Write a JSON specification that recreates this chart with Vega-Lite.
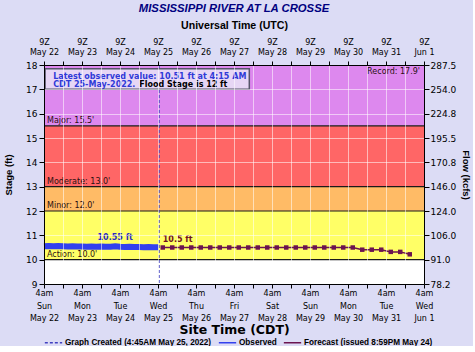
{
  "$schema": "https://vega.github.io/schema/vega-lite/v6.json",
  "background": "#dcdcf5",
  "padding": {"left": 3, "top": 2, "right": 2, "bottom": 0},
  "title": {"text": "MISSISSIPPI RIVER AT LA CROSSE", "font": "Liberation Sans", "fontWeight": "bold", "fontStyle": "italic", "fontSize": 11.3, "color": "#000080", "anchor": "middle", "offset": 6},
  "width": 380,
  "height": 219,
  "config": {
    "font": "DejaVu Sans",
    "view": {"stroke": null},
    "axis": {"labelFont": "DejaVu Sans", "labelFontSize": 8, "labelColor": "#000000", "tickColor": "#000000", "domainColor": "#000000", "titleColor": "#000000", "titleFont": "Liberation Sans", "titleFontWeight": "bold", "titleFontSize": 9.5, "labelOverlap": false, "labelFlush": false, "labelBound": false}
  },
  "datasets": {
    "bands": [
      {"level": "Normal", "lo": 9, "hi": 10},
      {"level": "Action", "lo": 10, "hi": 12},
      {"level": "Minor", "lo": 12, "hi": 13},
      {"level": "Moderate", "lo": 13, "hi": 15.5},
      {"level": "Major", "lo": 15.5, "hi": 18}
    ],
    "thresholds": [
      {"level": "Action", "stage": 10, "label": "Action: 10.0'", "t": "2022-05-22T04:00"},
      {"level": "Minor", "stage": 12, "label": "Minor: 12.0'", "t": "2022-05-22T04:00"},
      {"level": "Moderate", "stage": 13, "label": "Moderate: 13.0'", "t": "2022-05-22T04:00"},
      {"level": "Major", "stage": 15.5, "label": "Major: 15.5'", "t": "2022-05-22T04:00"}
    ],
    "created": [{"series": "Graph Created (4:45AM May 25, 2022)", "t": "2022-05-25T04:45"}],
    "observed": [
      {"series": "Observed", "t": "2022-05-22T04:00", "stage": 10.55},
      {"series": "Observed", "t": "2022-05-22T07:00", "stage": 10.56},
      {"series": "Observed", "t": "2022-05-22T10:00", "stage": 10.55},
      {"series": "Observed", "t": "2022-05-22T13:00", "stage": 10.56},
      {"series": "Observed", "t": "2022-05-22T16:00", "stage": 10.55},
      {"series": "Observed", "t": "2022-05-22T19:00", "stage": 10.54},
      {"series": "Observed", "t": "2022-05-22T22:00", "stage": 10.55},
      {"series": "Observed", "t": "2022-05-23T01:00", "stage": 10.54},
      {"series": "Observed", "t": "2022-05-23T04:00", "stage": 10.54},
      {"series": "Observed", "t": "2022-05-23T07:00", "stage": 10.53},
      {"series": "Observed", "t": "2022-05-23T10:00", "stage": 10.54},
      {"series": "Observed", "t": "2022-05-23T13:00", "stage": 10.53},
      {"series": "Observed", "t": "2022-05-23T16:00", "stage": 10.54},
      {"series": "Observed", "t": "2022-05-23T19:00", "stage": 10.53},
      {"series": "Observed", "t": "2022-05-23T22:00", "stage": 10.53},
      {"series": "Observed", "t": "2022-05-24T01:00", "stage": 10.55},
      {"series": "Observed", "t": "2022-05-24T04:00", "stage": 10.53},
      {"series": "Observed", "t": "2022-05-24T07:00", "stage": 10.52},
      {"series": "Observed", "t": "2022-05-24T10:00", "stage": 10.53},
      {"series": "Observed", "t": "2022-05-24T13:00", "stage": 10.52},
      {"series": "Observed", "t": "2022-05-24T16:00", "stage": 10.52},
      {"series": "Observed", "t": "2022-05-24T19:00", "stage": 10.51},
      {"series": "Observed", "t": "2022-05-24T22:00", "stage": 10.52},
      {"series": "Observed", "t": "2022-05-25T01:00", "stage": 10.51},
      {"series": "Observed", "t": "2022-05-25T04:00", "stage": 10.51},
      {"series": "Observed", "t": "2022-05-25T04:15", "stage": 10.51}
    ],
    "forecast": [
      {"series": "Forecast (issued 8:59PM May 24)", "t": "2022-05-25T07:00", "stage": 10.5},
      {"series": "Forecast (issued 8:59PM May 24)", "t": "2022-05-25T13:00", "stage": 10.5},
      {"series": "Forecast (issued 8:59PM May 24)", "t": "2022-05-25T19:00", "stage": 10.5},
      {"series": "Forecast (issued 8:59PM May 24)", "t": "2022-05-26T01:00", "stage": 10.5},
      {"series": "Forecast (issued 8:59PM May 24)", "t": "2022-05-26T07:00", "stage": 10.5},
      {"series": "Forecast (issued 8:59PM May 24)", "t": "2022-05-26T13:00", "stage": 10.5},
      {"series": "Forecast (issued 8:59PM May 24)", "t": "2022-05-26T19:00", "stage": 10.5},
      {"series": "Forecast (issued 8:59PM May 24)", "t": "2022-05-27T01:00", "stage": 10.5},
      {"series": "Forecast (issued 8:59PM May 24)", "t": "2022-05-27T07:00", "stage": 10.5},
      {"series": "Forecast (issued 8:59PM May 24)", "t": "2022-05-27T13:00", "stage": 10.5},
      {"series": "Forecast (issued 8:59PM May 24)", "t": "2022-05-27T19:00", "stage": 10.5},
      {"series": "Forecast (issued 8:59PM May 24)", "t": "2022-05-28T01:00", "stage": 10.5},
      {"series": "Forecast (issued 8:59PM May 24)", "t": "2022-05-28T07:00", "stage": 10.5},
      {"series": "Forecast (issued 8:59PM May 24)", "t": "2022-05-28T13:00", "stage": 10.5},
      {"series": "Forecast (issued 8:59PM May 24)", "t": "2022-05-28T19:00", "stage": 10.5},
      {"series": "Forecast (issued 8:59PM May 24)", "t": "2022-05-29T01:00", "stage": 10.5},
      {"series": "Forecast (issued 8:59PM May 24)", "t": "2022-05-29T07:00", "stage": 10.5},
      {"series": "Forecast (issued 8:59PM May 24)", "t": "2022-05-29T13:00", "stage": 10.5},
      {"series": "Forecast (issued 8:59PM May 24)", "t": "2022-05-29T19:00", "stage": 10.5},
      {"series": "Forecast (issued 8:59PM May 24)", "t": "2022-05-30T01:00", "stage": 10.5},
      {"series": "Forecast (issued 8:59PM May 24)", "t": "2022-05-30T07:00", "stage": 10.5},
      {"series": "Forecast (issued 8:59PM May 24)", "t": "2022-05-30T13:00", "stage": 10.41},
      {"series": "Forecast (issued 8:59PM May 24)", "t": "2022-05-30T19:00", "stage": 10.41},
      {"series": "Forecast (issued 8:59PM May 24)", "t": "2022-05-31T01:00", "stage": 10.41},
      {"series": "Forecast (issued 8:59PM May 24)", "t": "2022-05-31T07:00", "stage": 10.32},
      {"series": "Forecast (issued 8:59PM May 24)", "t": "2022-05-31T13:00", "stage": 10.32},
      {"series": "Forecast (issued 8:59PM May 24)", "t": "2022-05-31T19:00", "stage": 10.22}
    ]
  },
  "resolve": {"axis": {"x": "independent", "y": "independent"}},
  "layer": [
    {
      "data": {"name": "bands"},
      "mark": {"type": "rect"},
      "encoding": {
        "y": {"field": "lo", "type": "quantitative", "scale": {"domain": [9, 18], "nice": false, "zero": false},
          "axis": {"orient": "left", "title": "Stage (ft)", "values": [9, 10, 11, 12, 13, 14, 15, 16, 17, 18], "grid": false, "tickSize": 5, "labelPadding": 2, "labelFontSize": 9, "titlePadding": 12, "zindex": 1}},
        "y2": {"field": "hi"},
        "fill": {"field": "level", "type": "nominal", "scale": {"domain": ["Normal", "Action", "Minor", "Moderate", "Major"], "range": ["#ffffff", "#ffff66", "#ffbb66", "#ff6666", "#dd88ee"]}, "legend": null}
      }
    },
    {
      "data": {"name": "thresholds"},
      "mark": {"type": "rule", "color": "#1a1a1a", "strokeWidth": 1.2},
      "encoding": {
        "y": {"field": "stage", "type": "quantitative",
          "axis": {"orient": "left", "title": null, "labels": false, "ticks": false, "domain": false, "grid": true, "gridColor": "#ffffff", "gridOpacity": 0.55, "values": [11, 14, 15, 16, 17], "zindex": 1}}
      }
    },
    {
      "data": {"name": "thresholds"},
      "mark": {"type": "text", "align": "left", "baseline": "bottom", "dx": 3, "dy": -1, "fontSize": 8, "color": "#2a1010"},
      "encoding": {
        "x": {"field": "t", "type": "temporal", "axis": null},
        "y": {"field": "stage", "type": "quantitative", "axis": null},
        "text": {"field": "label"}
      }
    },
    {
      "data": {"values": [{"label": "Record: 17.9'", "stage": 17.9, "t": "2022-06-01T04:00"}]},
      "mark": {"type": "text", "align": "right", "baseline": "top", "dx": -4, "dy": 1, "fontSize": 8, "color": "#2a1010"},
      "encoding": {
        "x": {"field": "t", "type": "temporal", "axis": null},
        "y": {"field": "stage", "type": "quantitative", "axis": null},
        "text": {"field": "label"}
      }
    },
    {
      "data": {"name": "created"},
      "mark": {"type": "rule", "strokeWidth": 1},
      "encoding": {
        "x": {"field": "t", "type": "temporal",
          "scale": {"domain": [{"year": 2022, "month": 5, "date": 22, "hours": 4}, {"year": 2022, "month": 6, "date": 1, "hours": 4}]},
          "axis": {"orient": "bottom", "title": null, "labels": false, "ticks": false, "domain": false, "grid": true, "gridColor": "#ffffff", "gridOpacity": 0.55, "zindex": 1,
            "values": [
              {"year": 2022, "month": 5, "date": 22, "hours": 16},
              {"year": 2022, "month": 5, "date": 23, "hours": 4}, {"year": 2022, "month": 5, "date": 23, "hours": 16},
              {"year": 2022, "month": 5, "date": 24, "hours": 4}, {"year": 2022, "month": 5, "date": 24, "hours": 16},
              {"year": 2022, "month": 5, "date": 25, "hours": 4}, {"year": 2022, "month": 5, "date": 25, "hours": 16},
              {"year": 2022, "month": 5, "date": 26, "hours": 4}, {"year": 2022, "month": 5, "date": 26, "hours": 16},
              {"year": 2022, "month": 5, "date": 27, "hours": 4}, {"year": 2022, "month": 5, "date": 27, "hours": 16},
              {"year": 2022, "month": 5, "date": 28, "hours": 4}, {"year": 2022, "month": 5, "date": 28, "hours": 16},
              {"year": 2022, "month": 5, "date": 29, "hours": 4}, {"year": 2022, "month": 5, "date": 29, "hours": 16},
              {"year": 2022, "month": 5, "date": 30, "hours": 4}, {"year": 2022, "month": 5, "date": 30, "hours": 16},
              {"year": 2022, "month": 5, "date": 31, "hours": 4}, {"year": 2022, "month": 5, "date": 31, "hours": 16}
            ]}},
        "color": {"field": "series", "type": "nominal",
          "scale": {"domain": ["Graph Created (4:45AM May 25, 2022)", "Observed", "Forecast (issued 8:59PM May 24)"], "range": ["#4040c0", "#3340ee", "#6b1450"]},
          "legend": {"title": null, "orient": "bottom", "direction": "horizontal", "offset": -3, "padding": 0, "symbolType": "stroke", "symbolSize": 300, "symbolStrokeWidth": 1.5, "labelFont": "Liberation Sans", "labelFontWeight": "bold", "labelFontSize": 8.2, "labelColor": "#000000", "labelOffset": 2, "columnPadding": 3, "labelLimit": 300}
        },
        "strokeDash": {"field": "series", "type": "nominal",
          "scale": {"domain": ["Graph Created (4:45AM May 25, 2022)", "Observed", "Forecast (issued 8:59PM May 24)"], "range": [[3, 2], [1, 0], [1, 0]]},
          "legend": {"title": null, "orient": "bottom", "direction": "horizontal", "offset": -3, "padding": 0, "symbolType": "stroke", "symbolSize": 300, "symbolStrokeWidth": 1.5, "labelFont": "Liberation Sans", "labelFontWeight": "bold", "labelFontSize": 8.2, "labelColor": "#000000", "labelOffset": 2, "columnPadding": 3, "labelLimit": 300}
        }
      }
    },
    {
      "data": {"name": "observed"},
      "mark": {"type": "line", "strokeWidth": 6, "strokeCap": "butt"},
      "encoding": {
        "x": {"field": "t", "type": "temporal",
          "axis": {"orient": "bottom", "title": "Site Time (CDT)", "titleFont": "DejaVu Sans", "titleFontSize": 12.5, "titlePadding": 1, "tickSize": 4, "labelPadding": 1.5, "labelLineHeight": 12.5, "grid": false, "zindex": 1,
            "labelExpr": "hours(datum.value) == 4 ? ['4am', timeFormat(datum.value, '%a'), timeFormat(datum.value, '%b %-d')] : ''",
            "values": [
              {"year": 2022, "month": 5, "date": 22, "hours": 4}, {"year": 2022, "month": 5, "date": 22, "hours": 16},
              {"year": 2022, "month": 5, "date": 23, "hours": 4}, {"year": 2022, "month": 5, "date": 23, "hours": 16},
              {"year": 2022, "month": 5, "date": 24, "hours": 4}, {"year": 2022, "month": 5, "date": 24, "hours": 16},
              {"year": 2022, "month": 5, "date": 25, "hours": 4}, {"year": 2022, "month": 5, "date": 25, "hours": 16},
              {"year": 2022, "month": 5, "date": 26, "hours": 4}, {"year": 2022, "month": 5, "date": 26, "hours": 16},
              {"year": 2022, "month": 5, "date": 27, "hours": 4}, {"year": 2022, "month": 5, "date": 27, "hours": 16},
              {"year": 2022, "month": 5, "date": 28, "hours": 4}, {"year": 2022, "month": 5, "date": 28, "hours": 16},
              {"year": 2022, "month": 5, "date": 29, "hours": 4}, {"year": 2022, "month": 5, "date": 29, "hours": 16},
              {"year": 2022, "month": 5, "date": 30, "hours": 4}, {"year": 2022, "month": 5, "date": 30, "hours": 16},
              {"year": 2022, "month": 5, "date": 31, "hours": 4}, {"year": 2022, "month": 5, "date": 31, "hours": 16},
              {"year": 2022, "month": 6, "date": 1, "hours": 4}
            ]}},
        "y": {"field": "stage", "type": "quantitative", "axis": null},
        "color": {"field": "series", "type": "nominal"}
      }
    },
    {
      "data": {"name": "forecast"},
      "mark": {"type": "line", "strokeWidth": 1.5},
      "encoding": {
        "x": {"field": "t", "type": "temporal",
          "axis": {"orient": "top", "title": "Universal Time (UTC)", "titleFontSize": 10.6, "titlePadding": 8, "tickSize": 4, "labelPadding": 15, "labelLineHeight": 10, "grid": false, "zindex": 1,
            "labelExpr": "hours(datum.value) == 4 ? ['9Z', timeFormat(datum.value, '%b %-d')] : ''",
            "values": [
              {"year": 2022, "month": 5, "date": 22, "hours": 4}, {"year": 2022, "month": 5, "date": 22, "hours": 16},
              {"year": 2022, "month": 5, "date": 23, "hours": 4}, {"year": 2022, "month": 5, "date": 23, "hours": 16},
              {"year": 2022, "month": 5, "date": 24, "hours": 4}, {"year": 2022, "month": 5, "date": 24, "hours": 16},
              {"year": 2022, "month": 5, "date": 25, "hours": 4}, {"year": 2022, "month": 5, "date": 25, "hours": 16},
              {"year": 2022, "month": 5, "date": 26, "hours": 4}, {"year": 2022, "month": 5, "date": 26, "hours": 16},
              {"year": 2022, "month": 5, "date": 27, "hours": 4}, {"year": 2022, "month": 5, "date": 27, "hours": 16},
              {"year": 2022, "month": 5, "date": 28, "hours": 4}, {"year": 2022, "month": 5, "date": 28, "hours": 16},
              {"year": 2022, "month": 5, "date": 29, "hours": 4}, {"year": 2022, "month": 5, "date": 29, "hours": 16},
              {"year": 2022, "month": 5, "date": 30, "hours": 4}, {"year": 2022, "month": 5, "date": 30, "hours": 16},
              {"year": 2022, "month": 5, "date": 31, "hours": 4}, {"year": 2022, "month": 5, "date": 31, "hours": 16},
              {"year": 2022, "month": 6, "date": 1, "hours": 4}
            ]}},
        "y": {"field": "stage", "type": "quantitative",
          "axis": {"orient": "right", "title": "Flow (kcfs)", "values": [9, 10, 11, 12, 13, 14, 15, 16, 17, 18], "labelExpr": "['78.2','91.0','106.0','124.0','146.0','170.8','195.5','224.8','254.0','287.5'][datum.value - 9]", "tickSize": 5, "labelPadding": 1, "labelFontSize": 9, "titlePadding": 5, "grid": false, "zindex": 1}},
        "color": {"field": "series", "type": "nominal"}
      }
    },
    {
      "data": {"name": "forecast"},
      "mark": {"type": "point", "shape": "square", "filled": true, "size": 20, "opacity": 1},
      "encoding": {
        "x": {"field": "t", "type": "temporal", "axis": null},
        "y": {"field": "stage", "type": "quantitative", "axis": null},
        "color": {"field": "series", "type": "nominal"}
      }
    },
    {
      "data": {"values": [{"t": "2022-05-24T01:00", "stage": 10.55, "label": "10.55 ft"}]},
      "mark": {"type": "text", "align": "center", "baseline": "middle", "dy": -8, "fontWeight": "bold", "fontSize": 8, "color": "#2b2bbf"},
      "encoding": {
        "x": {"field": "t", "type": "temporal", "axis": null},
        "y": {"field": "stage", "type": "quantitative", "axis": null},
        "text": {"field": "label"}
      }
    },
    {
      "data": {"values": [{"t": "2022-05-25T07:00", "stage": 10.5, "label": "10.5 ft"}]},
      "mark": {"type": "text", "align": "left", "baseline": "middle", "dy": -8, "fontWeight": "bold", "fontSize": 8, "color": "#701020"},
      "encoding": {
        "x": {"field": "t", "type": "temporal", "axis": null},
        "y": {"field": "stage", "type": "quantitative", "axis": null},
        "text": {"field": "label"}
      }
    },
    {
      "data": {"values": [{"t0": "2022-05-22T04:40", "t1": "2022-05-27T13:40", "s0": 17.0, "s1": 17.85}]},
      "mark": {"type": "rect", "fill": "#e6d6f5", "stroke": "#55556a", "strokeWidth": 1.5},
      "encoding": {
        "x": {"field": "t0", "type": "temporal", "axis": null},
        "x2": {"field": "t1"},
        "y": {"field": "s1", "type": "quantitative", "axis": null},
        "y2": {"field": "s0"}
      }
    },
    {
      "data": {"values": [{"text": "Latest observed value: 10.51 ft at 4:15 AM", "stage": 17.51, "t": "2022-05-22T09:50"}, {"text": "CDT 25-May-2022.", "stage": 17.16, "t": "2022-05-22T09:50"}]},
      "mark": {"type": "text", "align": "left", "baseline": "middle", "fontWeight": "bold", "fontSize": 8, "color": "#2f3ad8"},
      "encoding": {
        "x": {"field": "t", "type": "temporal", "axis": null},
        "y": {"field": "stage", "type": "quantitative", "axis": null},
        "text": {"field": "text"}
      }
    },
    {
      "data": {"values": [{"text": "Flood Stage is 12 ft", "stage": 17.16, "t": "2022-05-24T16:10"}]},
      "mark": {"type": "text", "align": "left", "baseline": "middle", "fontWeight": "bold", "fontSize": 8, "color": "#000000"},
      "encoding": {
        "x": {"field": "t", "type": "temporal", "axis": null},
        "y": {"field": "stage", "type": "quantitative", "axis": null},
        "text": {"field": "text"}
      }
    }
  ]
}
